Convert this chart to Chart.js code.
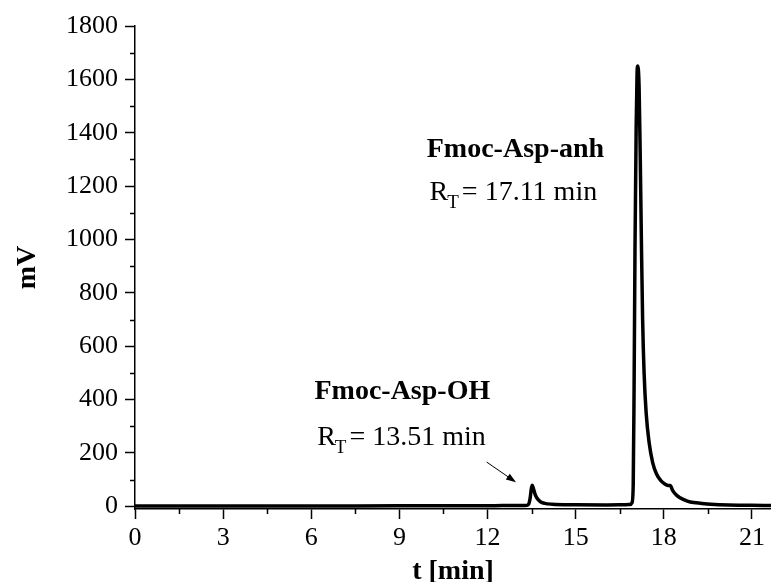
<!DOCTYPE html>
<html>
<head>
<meta charset="utf-8">
<title>HPLC chromatogram</title>
<script src="https://cdn.jsdelivr.net/npm/chart.js@4.4.1/dist/chart.umd.min.js"></script>
<style>
    html, body { margin: 0; padding: 0; background: #fff; }
    #wrap { width: 771px; height: 582px; }
</style>
</head>
<body>
<div id="wrap"><canvas id="hplc-chart" width="771" height="582"></canvas></div>
<script>
// Chromatogram trace (t in min, signal in mV)
const timeMin = [0, 3, 6, 9, 10, 12, 12.5, 13.2, 13.3, 13.4,
    13.45, 13.49, 13.52, 13.56, 13.62, 13.7, 13.8, 13.95, 14.2, 15,
    16, 16.7, 16.85, 16.92, 16.96, 16.99, 17.02, 17.06, 17.09, 17.11,
    17.16, 17.2, 17.24, 17.28, 17.33, 17.4, 17.5, 17.62, 17.75, 17.9,
    18.05, 18.15, 18.22, 18.3, 18.45, 18.7, 18.9, 19.3, 19.6, 20.2,
    21, 21.65];
const signalMv = [1, 1, 1, 2, 2, 2, 3, 3, 3, 8,
    30, 65, 79, 68, 45, 28, 17, 11, 8, 6,
    5, 6, 7, 14, 80, 450, 960, 1420, 1620, 1650,
    1570, 1300, 980, 700, 500, 350, 240, 165, 122, 96,
    83, 78, 78, 60, 40, 24, 16, 11, 8, 5,
    4, 3];

const xTicks = [0, 3, 6, 9, 12, 15, 18, 21];
const xMinorTicks = [1.5, 4.5, 7.5, 10.5, 13.5, 16.5, 19.5];
const yTicks = [0, 200, 400, 600, 800, 1000, 1200, 1400, 1600, 1800];
const yMinorTicks = [100, 300, 500, 700, 900, 1100, 1300, 1500, 1700];

// Peak labels
const peakNames = ['Fmoc-Asp-OH', 'Fmoc-Asp-anh'];
const peakTimes = ['13.51', '17.11'];

const SERIF = '"Liberation Serif", "Times New Roman", serif';

// Minor ticks + peak annotations, placed through the chart scales
const extrasPlugin = {
    id: 'extras',
    afterDraw(chart) {
        const { ctx, chartArea, scales: { x, y } } = chart;
        ctx.save();
        ctx.strokeStyle = '#000';
        ctx.lineWidth = 1.5;

        // minor ticks
        ctx.beginPath();
        xMinorTicks.forEach(v => {
            const px = Math.round(x.getPixelForValue(v)) + 0.5;
            ctx.moveTo(px, chartArea.bottom);
            ctx.lineTo(px, chartArea.bottom + 5);
        });
        yMinorTicks.forEach(v => {
            const py = Math.round(y.getPixelForValue(v)) + 0.5;
            ctx.moveTo(chartArea.left, py);
            ctx.lineTo(chartArea.left - 5, py);
        });
        ctx.stroke();

        // labels
        const spots = [
            { t: 9.1, rtT: 9.07, nameMv: 401, rtMv: 229 },
            { t: 12.95, rtT: 12.88, nameMv: 1309, rtMv: 1148 }
        ];
        ctx.fillStyle = '#000';
        ctx.textBaseline = 'alphabetic';
        spots.forEach((spot, i) => {
            ctx.textAlign = 'center';
            ctx.font = 'bold 28px ' + SERIF;
            ctx.fillText(peakNames[i], x.getPixelForValue(spot.t), y.getPixelForValue(spot.nameMv));

            // R_T = xx.xx min
            const cx = x.getPixelForValue(spot.rtT);
            const base = y.getPixelForValue(spot.rtMv);
            const big = '28px ' + SERIF;
            const small = '19px ' + SERIF;
            const rest = '= ' + peakTimes[i] + ' min';
            ctx.font = big;
            const wR = ctx.measureText('R').width;
            const wRest = ctx.measureText(rest).width;
            ctx.font = small;
            const wT = ctx.measureText('T').width;
            const gap = 2;
            const left = cx - (wR + wT + gap + wRest) / 2;
            ctx.textAlign = 'left';
            ctx.font = big;
            ctx.fillText('R', left, base);
            ctx.font = small;
            ctx.fillText('T', left + wR - 1, base + 8);
            ctx.font = big;
            ctx.fillText(rest, left + wR + wT + gap, base);
        });

        // arrow pointing at the small peak
        const x0 = x.getPixelForValue(11.97), y0 = y.getPixelForValue(166);
        const x1 = x.getPixelForValue(12.97), y1 = y.getPixelForValue(90);
        const ang = Math.atan2(y1 - y0, x1 - x0);
        ctx.lineWidth = 1;
        ctx.beginPath();
        ctx.moveTo(x0, y0);
        ctx.lineTo(x1 - 6 * Math.cos(ang), y1 - 6 * Math.sin(ang));
        ctx.stroke();
        ctx.beginPath();
        ctx.moveTo(x1, y1);
        ctx.lineTo(x1 - 10 * Math.cos(ang) + 3.5 * Math.sin(ang), y1 - 10 * Math.sin(ang) - 3.5 * Math.cos(ang));
        ctx.lineTo(x1 - 10 * Math.cos(ang) - 3.5 * Math.sin(ang), y1 - 10 * Math.sin(ang) + 3.5 * Math.cos(ang));
        ctx.closePath();
        ctx.fill();
        ctx.restore();
    }
};

const ctx = document.getElementById('hplc-chart');

new Chart(ctx, {
    type: 'line',
    data: {
        datasets: [{
            label: 'Signal',
            data: timeMin.map((t, i) => ({ x: t, y: signalMv[i] })),
            borderColor: '#000',
            borderWidth: 3.5,
            pointRadius: 0,
            fill: false,
            cubicInterpolationMode: 'monotone'
        }]
    },
    options: {
        responsive: false,
        animation: false,
        events: [],
        layout: {
            padding: { top: 26, right: 0, bottom: 0, left: 0 }
        },
        plugins: {
            legend: { display: false },
            tooltip: { enabled: false }
        },
        scales: {
            x: {
                type: 'linear',
                min: 0,
                max: 21.65,
                afterBuildTicks: scale => { scale.ticks = xTicks.map(v => ({ value: v })); },
                afterFit: scale => { scale.height = 73; },
                border: { display: true, color: '#000', width: 1.5 },
                grid: {
                    drawOnChartArea: false,
                    drawTicks: true,
                    tickLength: 10,
                    tickColor: '#000',
                    tickWidth: 1.5
                },
                ticks: {
                    color: '#000',
                    padding: 4,
                    maxRotation: 0,
                    callback: v => String(v),
                    font: { family: SERIF, size: 26 }
                },
                title: {
                    display: true,
                    text: 't [min]',
                    color: '#000',
                    padding: { top: 0, bottom: 0 },
                    font: { family: SERIF, size: 28, weight: 'bold', lineHeight: 0.7 }
                }
            },
            y: {
                min: -10,
                max: 1800,
                afterBuildTicks: scale => { scale.ticks = yTicks.map(v => ({ value: v })); },
                afterFit: scale => { scale.width = 135; },
                border: { display: true, color: '#000', width: 1.5 },
                grid: {
                    drawOnChartArea: false,
                    drawTicks: true,
                    tickLength: 10,
                    tickColor: '#000',
                    tickWidth: 1.5
                },
                ticks: {
                    color: '#000',
                    padding: 7,
                    callback: v => String(v),
                    font: { family: SERIF, size: 26 }
                },
                title: {
                    display: true,
                    text: 'mV',
                    color: '#000',
                    padding: { top: 11, bottom: 0 },
                    font: { family: SERIF, size: 28, weight: 'bold' }
                }
            }
        }
    },
    plugins: [extrasPlugin]
});
</script>
</body>
</html>
